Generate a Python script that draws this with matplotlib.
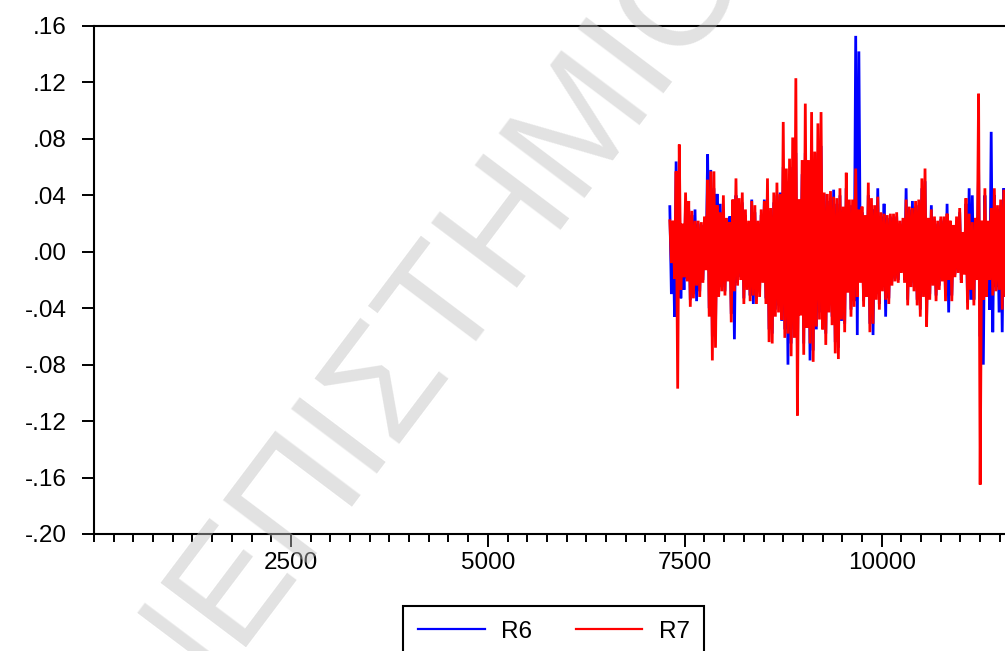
import numpy as np
import matplotlib
matplotlib.use("Agg")
import matplotlib.pyplot as plt
from matplotlib.ticker import FixedLocator, MultipleLocator, FuncFormatter

plt.rcParams["font.family"] = ["Liberation Sans", "DejaVu Sans"]

# return series: one high and one low reading per 40-observation block,
# first block starts at observation 7310
start_obs = 7310
block = 40

r7_hi = [.022, .022, .057, .076, .020, .042, .036, .029, .022, .022,
         .021, .025, .051, .057, .057, .033, .028, .040, .024, .021,
         .037, .052, .038, .042, .030, .022, .036, .033, .022, .030,
         .036, .052, .031, .042, .049, .041, .092, .059, .066, .081,
         .123, .037, .065, .105, .065, .099, .071, .091, .099, .042,
         .041, .043, .039, .038, .045, .032, .056, .037, .037, .059,
         .030, .032, .026, .049, .038, .033, .039, .028, .027, .026,
         .027, .027, .028, .022, .024, .037, .032, .031, .036, .037,
         .052, .059, .024, .030, .025, .022, .025, .025, .027, .022,
         .019, .025, .031, .014, .038, .027, .021, .024, .112, .022,
         .045, .022, .031, .045, .033, .037, .044, .030]
r7_lo = [-.008, -.019, -.097, -.027, -.018, -.021, -.039, -.033, -.024, -.032,
         -.022, -.013, -.046, -.077, -.068, -.032, -.028, -.031, -.021, -.050,
         -.028, -.024, -.020, -.037, -.027, -.035, -.031, -.037, -.032, -.022,
         -.037, -.064, -.065, -.046, -.043, -.048, -.061, -.058, -.074, -.061,
         -.116, -.045, -.073, -.054, -.065, -.078, -.053, -.048, -.055, -.066,
         -.043, -.052, -.072, -.076, -.048, -.057, -.029, -.046, -.039, -.032,
         -.022, -.039, -.032, -.057, -.051, -.034, -.041, -.028, -.034, -.037,
         -.024, -.021, -.022, -.015, -.022, -.038, -.025, -.028, -.038, -.046,
         -.032, -.053, -.034, -.024, -.035, -.027, -.021, -.035, -.020, -.035,
         -.018, -.015, -.022, -.016, -.041, -.027, -.038, -.020, -.165, -.034,
         -.032, -.020, -.031, -.028, -.027, -.041, -.032, -.030]
r6_hi = [.032, .020, .064, .040, .018, .035, .030, .026, .030, .020,
         .019, .022, .069, .058, .045, .041, .034, .030, .022, .025,
         .030, .040, .032, .035, .026, .020, .037, .028, .020, .026,
         .037, .040, .028, .035, .040, .042, .060, .050, .055, .060,
         .070, .033, .055, .070, .055, .070, .060, .070, .075, .041,
         .036, .038, .044, .034, .040, .030, .045, .033, .033, .153,
         .142, .028, .024, .040, .033, .030, .045, .025, .034, .024,
         .025, .024, .025, .020, .022, .045, .030, .036, .032, .033,
         .045, .050, .022, .033, .023, .020, .023, .022, .034, .020,
         .017, .022, .028, .013, .034, .045, .040, .022, .060, .020,
         .040, .020, .085, .040, .030, .033, .045, .028]
r6_lo = [-.030, -.046, -.030, -.033, -.027, -.019, -.034, -.030, -.035, -.028,
         -.020, -.012, -.040, -.060, -.055, -.031, -.025, -.028, -.019, -.044,
         -.062, -.022, -.018, -.033, -.024, -.031, -.037, -.033, -.028, -.020,
         -.033, -.055, -.058, -.041, -.038, -.049, -.055, -.080, -.065, -.055,
         -.070, -.040, -.065, -.048, -.077, -.070, -.055, -.043, -.050, -.058,
         -.038, -.046, -.064, -.068, -.049, -.051, -.026, -.041, -.035, -.059,
         -.020, -.035, -.028, -.051, -.059, -.030, -.037, -.025, -.046, -.033,
         -.021, -.019, -.020, -.013, -.020, -.034, -.022, -.025, -.034, -.041,
         -.028, -.047, -.030, -.021, -.031, -.024, -.019, -.031, -.043, -.031,
         -.016, -.013, -.020, -.014, -.036, -.034, -.034, -.018, -.060, -.080,
         -.028, -.041, -.057, -.025, -.043, -.057, -.028, -.027]

series_names = ["R6", "R7"]
series_colors = ["#0000ff", "#ff0000"]
y_ticks = [.16, .12, .08, .04, .00, -.04, -.08, -.12, -.16, -.20]
x_major = [2500, 5000, 7500, 10000]


def interleave(hi, lo):
    vals = np.empty(2 * len(hi))
    vals[0::2] = hi
    vals[1::2] = lo
    obs = start_obs + np.arange(len(vals)) * (block // 2)
    return obs, vals


def eviews_fmt(v, pos):
    s = f"{v:.2f}"
    return s.replace("0.", ".", 1)


fig = plt.figure(figsize=(10.05, 6.51), dpi=100)
ax = fig.add_axes([94 / 1005, 1 - 534 / 651, 961 / 1005, 508 / 651])

for (hi, lo), name, col in zip([(r6_hi, r6_lo), (r7_hi, r7_lo)], series_names, series_colors):
    x, y = interleave(hi, lo)
    ax.plot(x, y, color=col, lw=2.0, label=name, solid_joinstyle="miter")

ax.set_xlim(0, 12200)
ax.set_ylim(-0.20, 0.16)

ax.yaxis.set_major_locator(FixedLocator(y_ticks))
ax.yaxis.set_major_formatter(FuncFormatter(eviews_fmt))
ax.xaxis.set_major_locator(FixedLocator(x_major))
ax.xaxis.set_minor_locator(MultipleLocator(250))

for side in ["left", "bottom", "top", "right"]:
    ax.spines[side].set_linewidth(1.5)
    ax.spines[side].set_color("black")

ax.tick_params(axis="y", direction="out", length=8.5, width=1.4, pad=11, labelsize=17.5)
ax.tick_params(axis="x", which="major", direction="out", length=9, width=1.4, pad=4, labelsize=17.5)
ax.tick_params(axis="x", which="minor", direction="out", length=5.5, width=1.4)

leg = fig.legend(loc="upper center", bbox_to_anchor=(0.551, 1 - 606 / 651), ncol=2,
                 fontsize=17.5, frameon=True, fancybox=False, framealpha=1,
                 handlelength=2.75, handletextpad=0.66, columnspacing=1.8,
                 borderpad=0.6, borderaxespad=0)
leg.get_frame().set_edgecolor("black")
leg.get_frame().set_linewidth(1.5)
for line in leg.get_lines():
    line.set_linewidth(1.6)

# diagonal watermark across the plot
fig.text(393 / 1005, 1 - 436 / 651, "ΠΑΝΕΠΙΣΤΗΜΙΟ", rotation=53, rotation_mode="anchor",
         ha="center", va="baseline", fontsize=112, color="#bfbfbf", alpha=0.45,
         family="Liberation Sans", zorder=10)

fig.savefig("out.png", dpi=100)
